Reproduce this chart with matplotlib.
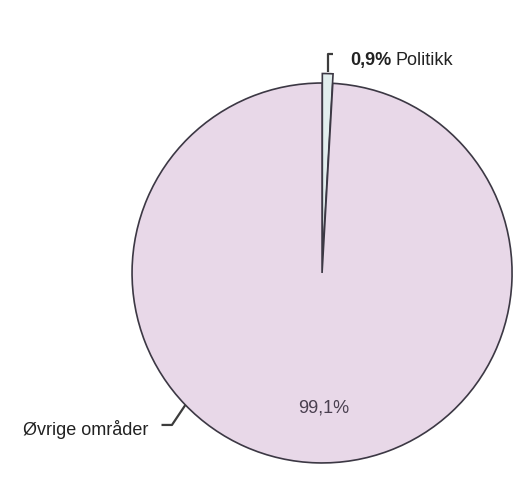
import matplotlib
matplotlib.use("Agg")
import matplotlib.pyplot as plt
import numpy as np

labels = ["Politikk", "Øvrige områder"]
values = [0.9, 99.1]
pct_labels = ["0,9%", "99,1%"]

plt.rcParams['font.family'] = ['Liberation Sans', 'DejaVu Sans']

fig = plt.figure(figsize=(5.21, 4.96), dpi=100)
ax = fig.add_axes([0, 0, 1, 1])

colors = ['#e2eeee', '#e8d8e8']
wedges, _ = ax.pie(values, startangle=90, counterclock=False, colors=colors,
                   explode=[0.05, 0], radius=1.0, center=(0, 0),
                   wedgeprops=dict(edgecolor='#3c3844', linewidth=1.2))
ax.set_xlim(-1.695, 1.047)
ax.set_ylim(-1.174, 1.437)
ax.set_aspect('auto')
ax.axis('off')

ec = '#3c3c3c'
fs = 13
# Politikk leader
w0 = wedges[0]
mid0 = np.deg2rad((w0.theta1 + w0.theta2) / 2)
x0, y0 = 1.06 * np.cos(mid0), 1.06 * np.sin(mid0)
ax.plot([x0, x0, x0 + 0.03], [y0, 1.155, 1.155], color=ec, lw=1.6, solid_capstyle='butt')
t1 = ax.text(0.147, 1.12, pct_labels[0], fontsize=fs, fontweight='bold', ha='left', va='center', color='#222222')
fig.canvas.draw()
bb = t1.get_window_extent()
inv = ax.transData.inverted()
xr = inv.transform((bb.x1, bb.y0))[0]
ax.text(xr + 0.02, 1.12, labels[0], fontsize=fs, ha='left', va='center', color='#222222')

# Øvrige leader
ang = np.deg2rad(224)
ex, ey = np.cos(ang), np.sin(ang)
ax.plot([ex, -0.79, -0.845], [ey, -0.80, -0.80], color=ec, lw=1.6, solid_capstyle='butt')
ax.text(-0.915, -0.826, labels[1], fontsize=fs, ha='right', va='center', color='#222222')

# percentage inside
ax.text(0.01, -0.71, pct_labels[1], fontsize=fs, ha='center', va='center', color='#4a4050')

fig.savefig('out.png', dpi=100, facecolor='white')
